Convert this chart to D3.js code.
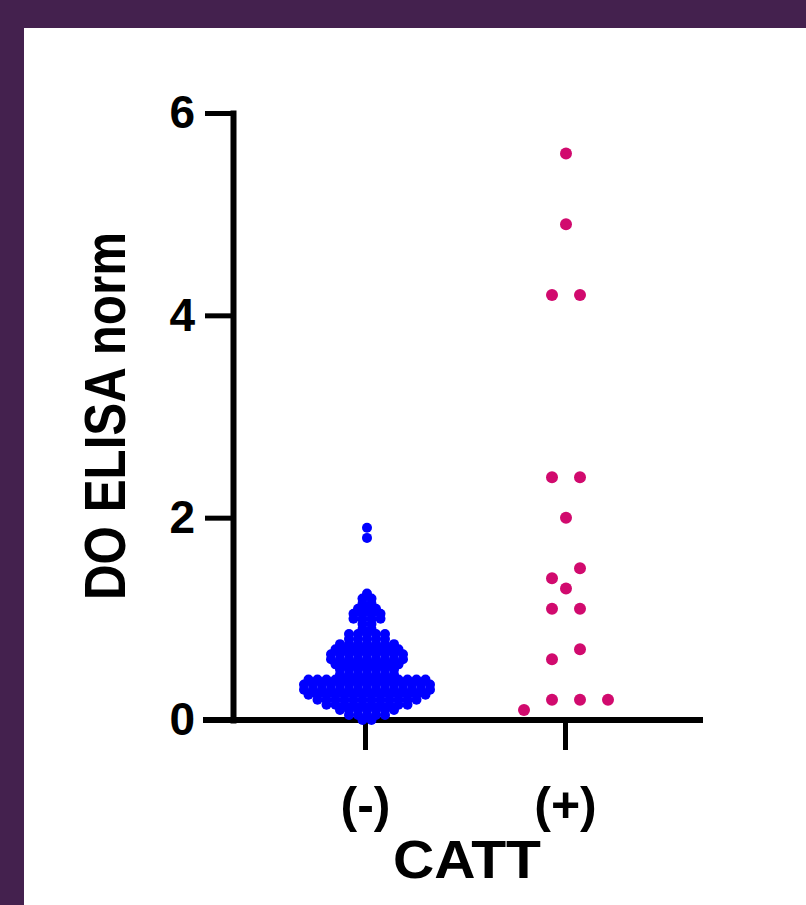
<!DOCTYPE html>
<html>
<head>
<meta charset="utf-8">
<script src="https://cdn.jsdelivr.net/npm/d3@7"></script>
<style>
  html, body { margin: 0; padding: 0; background: #44214e; }
  svg { display: block; }
</style>
</head>
<body>
<div id="chart"></div>
<script>
'use strict';

var groups = ["(-)", "(+)"];
var yTicks = [0, 2, 4, 6];

// CATT (-) : read row by row off the swarm
var negValues = [
  1.90, 1.80,
  1.25,
  1.20, 1.20,
  1.15, 1.15,
  1.10, 1.10, 1.10,
  1.05, 1.05, 1.05, 1.05,
  1.00, 1.00, 1.00, 1.00,
  0.95, 0.95,
  0.90, 0.90,
  0.85, 0.85, 0.85, 0.85, 0.85,
  0.80, 0.80, 0.80, 0.80, 0.80,
  0.75, 0.75, 0.75, 0.75, 0.75, 0.75, 0.75,
  0.70, 0.70, 0.70, 0.70, 0.70, 0.70, 0.70, 0.70,
  0.65, 0.65, 0.65, 0.65, 0.65, 0.65, 0.65, 0.65, 0.65,
  0.60, 0.60, 0.60, 0.60, 0.60, 0.60, 0.60, 0.60, 0.60,
  0.55, 0.55, 0.55, 0.55, 0.55, 0.55, 0.55, 0.55,
  0.50, 0.50, 0.50, 0.50, 0.50, 0.50, 0.50,
  0.45, 0.45, 0.45, 0.45, 0.45, 0.45, 0.45,
  0.40, 0.40, 0.40, 0.40, 0.40, 0.40, 0.40, 0.40, 0.40, 0.40, 0.40, 0.40, 0.40, 0.40,
  0.35, 0.35, 0.35, 0.35, 0.35, 0.35, 0.35, 0.35, 0.35, 0.35, 0.35, 0.35, 0.35, 0.35, 0.35,
  0.30, 0.30, 0.30, 0.30, 0.30, 0.30, 0.30, 0.30, 0.30, 0.30, 0.30, 0.30, 0.30, 0.30, 0.30,
  0.25, 0.25, 0.25, 0.25, 0.25, 0.25, 0.25, 0.25, 0.25, 0.25, 0.25, 0.25, 0.25, 0.25,
  0.20, 0.20, 0.20, 0.20, 0.20, 0.20, 0.20, 0.20, 0.20, 0.20, 0.20, 0.20,
  0.15, 0.15, 0.15, 0.15, 0.15, 0.15, 0.15, 0.15, 0.15, 0.15,
  0.10, 0.10, 0.10, 0.10, 0.10, 0.10, 0.10,
  0.05, 0.05, 0.05, 0.05, 0.05,
  0.00, 0.00
];

// CATT (+)
var posValues = [5.6, 4.9, 4.2, 4.2, 2.4, 2.4, 2.0, 1.5, 1.4, 1.3, 1.1, 1.1, 0.7, 0.6, 0.2, 0.2, 0.2, 0.1];

var width = 806, height = 905;
var font = "'Liberation Sans', Arial, sans-serif";

var svg = d3.select("#chart").append("svg")
  .attr("width", width).attr("height", height);

svg.append("rect").attr("width", width).attr("height", height).attr("fill", "#44214e");
svg.append("rect").attr("x", 24).attr("y", 28)
  .attr("width", width - 24).attr("height", height - 28).attr("fill", "#ffffff");

var y = d3.scaleLinear().domain([0, 6]).range([720, 113]);
var x = d3.scalePoint().domain(groups).range([365, 565]);
var axisLeftX = 233, axisRightX = 703;

//axes
var yAxis = svg.append("g").attr("transform", "translate(" + axisLeftX + ",0)")
  .call(d3.axisLeft(y).tickValues(yTicks).tickFormat(d3.format("d"))
    .tickSize(28).tickSizeOuter(0).tickPadding(10));

var xAxis = svg.append("g").attr("transform", "translate(0," + y(0) + ")")
  .call(d3.axisBottom(x).tickSize(30).tickSizeOuter(0).tickPadding(36));
xAxis.select(".domain").remove();
xAxis.append("line")
  .attr("x1", axisLeftX - 30).attr("x2", axisRightX)
  .attr("stroke", "#000").attr("stroke-width", 6);

yAxis.select(".domain").attr("stroke", "#000").attr("stroke-width", 6).attr("stroke-linecap", "square");
[yAxis, xAxis].forEach(function(g){
  g.selectAll(".tick line").attr("stroke", "#000").attr("stroke-width", 5);
  g.selectAll(".tick text").attr("fill", "#000").style("font-family", font).style("font-weight", "bold");
});
yAxis.selectAll(".tick text").style("font-size", "46px");
xAxis.selectAll(".tick text").style("font-size", "50px");

//axis titles
svg.append("text")
  .attr("transform", "translate(125,416) rotate(-90)")
  .attr("text-anchor", "middle")
  .attr("textLength", 368).attr("lengthAdjust", "spacingAndGlyphs")
  .style("font-family", font).style("font-weight", "bold").style("font-size", "58px")
  .text("DO ELISA norm");

svg.append("text")
  .attr("x", 467).attr("y", 878)
  .attr("text-anchor", "middle")
  .attr("textLength", 148).attr("lengthAdjust", "spacingAndGlyphs")
  .style("font-family", font).style("font-weight", "bold").style("font-size", "53px")
  .text("CATT");

// rows of points, centred on the group, placed right to left
function swarm(values, cx, rowGap, spacing){
  var sorted = values.slice().sort(function(a, b){ return b - a; });
  var rows = [], cur = null;
  sorted.forEach(function(v){
    var py = y(v);
    if (cur && py - cur.top < rowGap) cur.pts.push(v);
    else { cur = {top: py, pts: [v]}; rows.push(cur); }
  });
  var out = [];
  rows.forEach(function(r){
    var n = r.pts.length;
    r.pts.forEach(function(v, i){
      out.push({v: v, x: cx + ((n - 1) / 2 - i) * spacing});
    });
  });
  return out;
}

function drawDots(data, r, color){
  svg.append("g").selectAll("circle").data(data).enter().append("circle")
    .attr("cx", function(d){ return d.x; })
    .attr("cy", function(d){ return y(d.v); })
    .attr("r", r)
    .attr("fill", color);
}

drawDots(swarm(negValues, x("(-)") + 2, 4, 9), 5, "#0000ff");
drawDots(swarm(posValues, x("(+)") + 1, 12, 28), 6, "#d10a6e");
</script>
</body>
</html>
